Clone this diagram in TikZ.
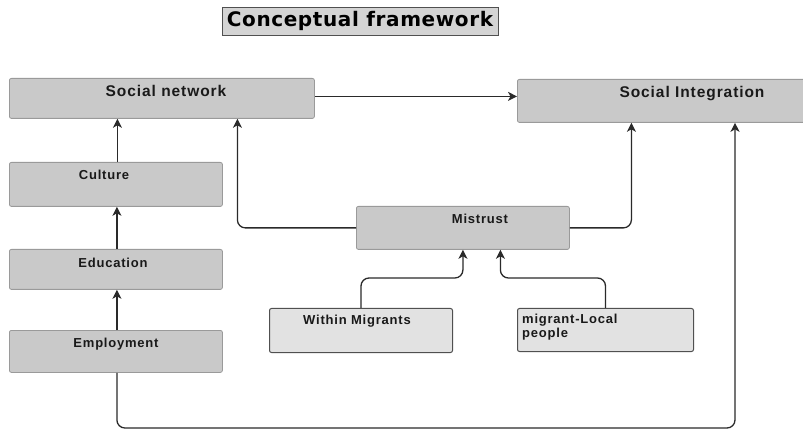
\documentclass[tikz,border=0pt]{standalone}
\usepackage{fontspec}
\setmainfont{Liberation Sans}
\newfontfamily\titlefont{DejaVu Sans}
\usetikzlibrary{arrows.meta}
\definecolor{boxfill}{HTML}{C9C9C9}
\definecolor{boxline}{HTML}{9A9A9A}
\definecolor{lightfill}{HTML}{E2E2E2}
\definecolor{titlefill}{HTML}{D4D4D4}
\definecolor{darkline}{HTML}{505050}
\definecolor{wire}{HTML}{2A2A2A}
\tikzset{
  box/.style={draw=boxline, fill=boxfill, rounded corners=2pt, line width=0.8pt, inner sep=0pt, anchor=north west},
  subbox/.style={box, draw=darkline, fill=lightfill, line width=1pt},
  labfont/.style={font=\bfseries\addfontfeature{LetterSpace=6}\fontsize{13}{14}\selectfont},
  lab/.style={labfont, text=black!90, inner sep=0pt},
  biglab/.style={font=\bfseries\addfontfeature{LetterSpace=6}\fontsize{15.5}{17}\selectfont, text=black!90, inner sep=0pt},
  arr/.style={draw=wire, line width=1.3pt, rounded corners=8pt, -{Stealth[length=9pt,width=9pt,inset=2.5pt]}}
}
\begin{document}
\begin{tikzpicture}[x=1pt,y=-1pt]
\useasboundingbox (0,0) rectangle (803,430);
% title
\node[box, draw=darkline, fill=titlefill, rounded corners=0pt, line width=1pt,
      minimum width=276pt, minimum height=28pt] (title) at (222,7) {};
\node[font=\titlefont\bfseries\addfontfeature{LetterSpace=3}\fontsize{20}{21}\selectfont, inner sep=0pt] (titletext) at (360,21) {Conceptual framework};
% boxes
\node[box, minimum width=305pt, minimum height=40pt] (sn) at (9,78) {};
\node[biglab] (sntext) at (166,91) {Social network};
\node[box, minimum width=291pt, minimum height=43pt] (si) at (517,79) {};
\node[biglab] (sitext) at (692,94) {Social Integration};
\node[box, minimum width=213pt, minimum height=44pt] (cul) at (9,162) {};
\node[lab] (cultext) at (104,175) {Culture};
\node[box, minimum width=213pt, minimum height=40pt] (edu) at (9,249) {};
\node[lab] (edutext) at (113,263) {Education};
\node[box, minimum width=213pt, minimum height=42pt] (emp) at (9,330) {};
\node[lab] (emptext) at (116,344) {Employment};
\node[box, minimum width=213pt, minimum height=43pt] (mis) at (356,206) {};
\node[lab] (mistext) at (480,219) {Mistrust};
\node[subbox, minimum width=183pt, minimum height=44pt] (wm) at (269,308) {};
\node[lab] (wmtext) at (357,321) {Within Migrants};
\node[subbox, minimum width=176pt, minimum height=43pt] (ml) at (517,308) {};
\node[lab, align=left, anchor=north west] (mltext) at (522,314) {migrant-Local\\people};
% connectors
\coordinate (loopR) at (735,428);
\draw[arr] ([xshift=1.5pt]cul.north) -- ([xshift=1.5pt]cul.north |- sn.south);
\draw[arr] ([xshift=1pt]edu.north) -- ([xshift=1pt]edu.north |- cul.south);
\draw[arr] ([xshift=1pt]emp.north) -- ([xshift=1pt]emp.north |- edu.south);
\draw[arr] ([xshift=1pt]emp.south) |- (loopR) -- (loopR |- si.south);
\draw[arr] ([yshift=2pt]sn.east) -- ([yshift=2pt]si.west |- sn.east);
\draw[arr] (mis.west) -| ([xshift=75.5pt]sn.south);
\draw[arr] (mis.east) -| ([xshift=-31.5pt]si.south);
\draw[arr] (wm.north) -- ++(0,-30) -| (mis.south);
\draw[arr] (ml.north) -- ++(0,-30) -| ([xshift=37.5pt]mis.south);
\end{tikzpicture}
\end{document}
